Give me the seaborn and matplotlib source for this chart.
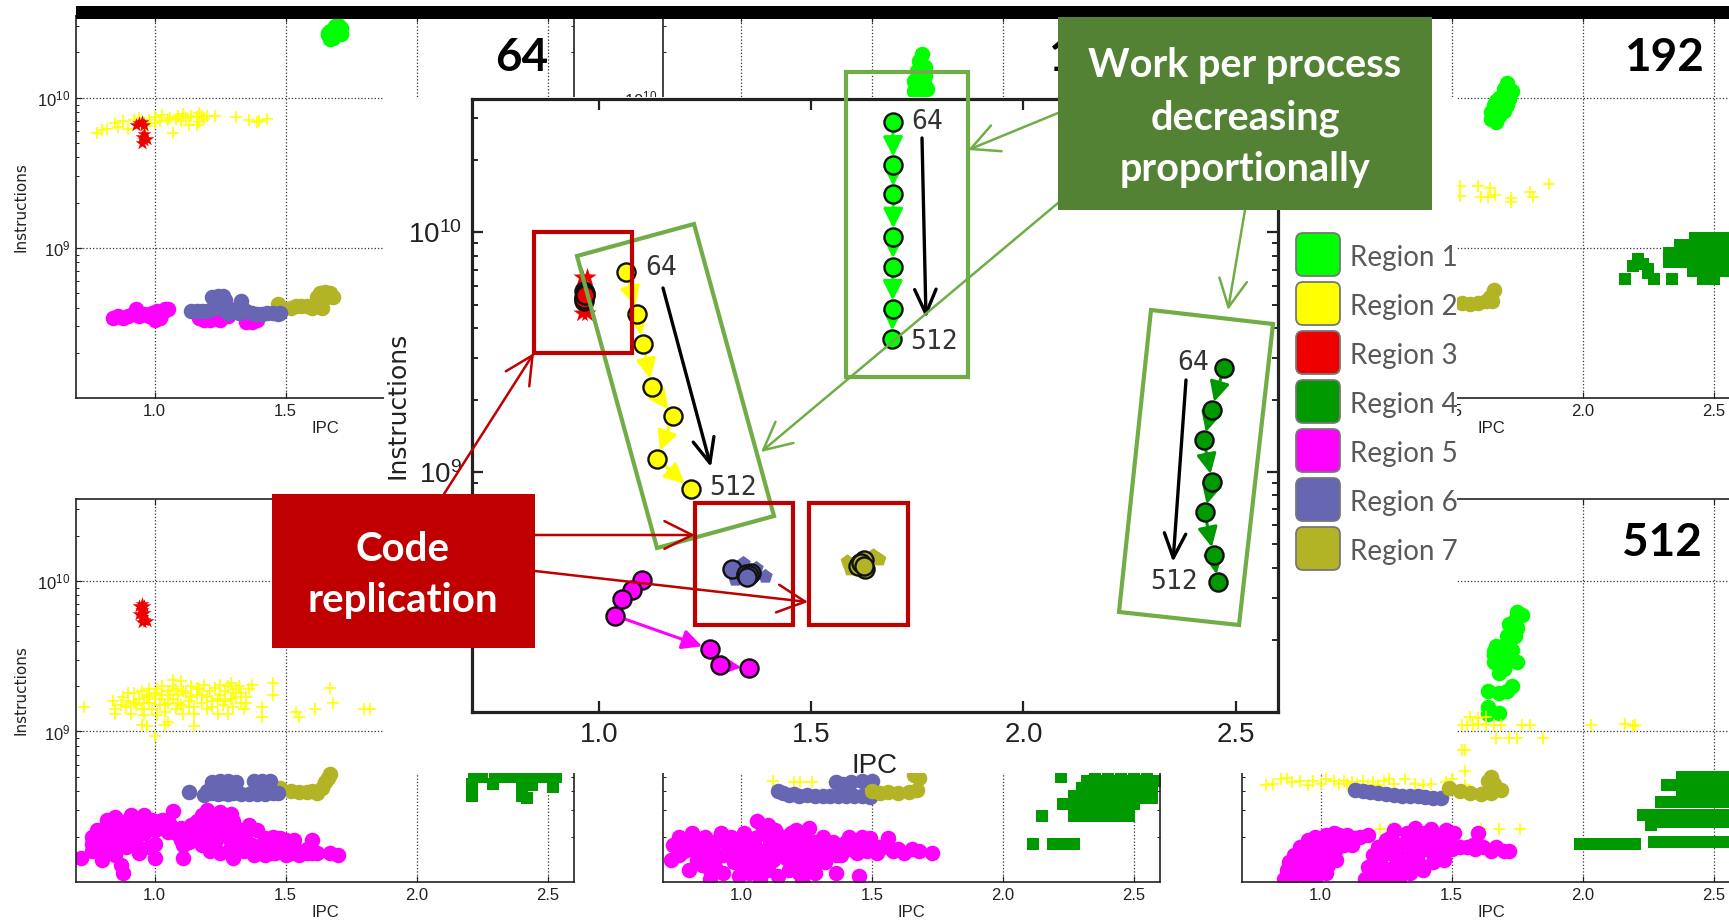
import numpy as np
import matplotlib
matplotlib.use('Agg')
import matplotlib.pyplot as plt
from matplotlib.patches import Rectangle, Polygon, FancyBboxPatch
from matplotlib.ticker import NullFormatter, FixedLocator
import seaborn as sns

W, H = 1729, 921

regions = ['Region 1', 'Region 2', 'Region 3', 'Region 4', 'Region 5', 'Region 6', 'Region 7']
colors = ['#00ff00', '#ffff00', '#ee0000', '#009900', '#ff00ff', '#6666b3', '#b3b326']
markers = ['o', '+', '*', 's', 'o', 'o', 'o']
sizes = [125, 75, 110, 82, 125, 125, 125]

# all cloud values are (IPC, instructions in units of 1e8)
p64_r1 = [(1.66, 260), (1.67, 245), (1.68, 250), (1.70, 270), (1.71, 290), (1.70, 305), (1.69, 300), (1.67, 280), (1.68, 265),
          (1.71, 265), (1.69, 285), (1.66, 270)]
p64_r2 = [(0.78, 58), (0.80, 61), (0.82, 62), (0.85, 68), (0.86, 64), (0.88, 70), (0.90, 62), (0.92, 71), (0.94, 73),
          (0.95, 66), (0.96, 69), (0.97, 65), (0.98, 71), (1.0, 74), (1.0, 68), (1.03, 77), (1.02, 70), (1.05, 71),
          (1.06, 73), (1.07, 58), (1.08, 72), (1.09, 75), (1.10, 70), (1.11, 78), (1.12, 73), (1.13, 66), (1.14, 76),
          (1.16, 74), (1.17, 69), (1.17, 79), (1.18, 76), (1.19, 72), (1.20, 75), (1.16, 66), (1.23, 75), (1.31, 74),
          (1.36, 71), (1.40, 70), (1.43, 72), (1.39, 69)]
p64_r3 = [(0.93, 66), (0.94, 68), (0.95, 69), (0.96, 66), (0.95, 55), (0.96, 52), (0.97, 53), (0.95, 50), (0.96, 57)]
p64_r5 = [(0.84, 3.4), (0.86, 3.5), (0.88, 3.4), (0.90, 3.5), (0.92, 3.7), (0.93, 3.9), (0.94, 3.5), (0.96, 3.6), (0.98, 3.5),
          (0.99, 3.7), (1.0, 3.3), (1.01, 3.8), (1.02, 3.4), (1.03, 3.7), (1.04, 3.9), (1.05, 3.9), (1.17, 3.4), (1.19, 3.3),
          (1.21, 3.3), (1.23, 3.4), (1.25, 3.3), (1.28, 3.5), (1.31, 3.9), (1.35, 3.2), (1.37, 3.2), (1.39, 3.3)]
p64_r7 = [(1.47, 4.2), (1.52, 4.0), (1.54, 4.1), (1.56, 4.1), (1.58, 4.1), (1.60, 4.0), (1.62, 4.2), (1.63, 4.1), (1.64, 4.0),
          (1.62, 4.7), (1.63, 5.0), (1.65, 5.1), (1.67, 5.0), (1.68, 4.7), (1.65, 4.6)]
p64_r6 = [(1.14, 3.8), (1.16, 3.8), (1.18, 3.8), (1.2, 3.8), (1.22, 3.9), (1.22, 4.7), (1.24, 4.8), (1.26, 4.8), (1.27, 4.5),
          (1.26, 3.9), (1.28, 3.7), (1.3, 3.8), (1.32, 3.7), (1.33, 4.4), (1.33, 3.9), (1.35, 3.8), (1.37, 3.7), (1.39, 3.6),
          (1.41, 3.6), (1.43, 3.7), (1.45, 3.7), (1.47, 3.6), (1.48, 3.7)]

p128_r1 = [(1.66, 110), (1.66, 130), (1.67, 150), (1.68, 175), (1.69, 195), (1.70, 120), (1.70, 160), (1.68, 105), (1.68, 140),
           (1.70, 140), (1.71, 115), (1.69, 125), (1.67, 118)]

p192_r1 = [(1.71, 125), (1.72, 115), (1.73, 110), (1.70, 105), (1.72, 98), (1.69, 95), (1.71, 90), (1.67, 88), (1.69, 83),
           (1.66, 79), (1.68, 75), (1.65, 72), (1.67, 69), (1.70, 115), (1.68, 100), (1.66, 90), (1.70, 82), (1.65, 80), (1.67, 95)]
p192_r2 = [(1.53, 25.9), (1.53, 22), (1.60, 25.9), (1.61, 21.9), (1.645, 25), (1.64, 21.9), (1.665, 22.5), (1.727, 21.5),
           (1.727, 20.3), (1.80, 23.6), (1.81, 21.9), (1.87, 26.7)]
p192_r4 = [(2.16, 6.2), (2.21, 8.4), (2.23, 7.8), (2.19, 7.6), (2.25, 6.8), (2.27, 6.2), (2.34, 6.2), (2.25, 7.2),
           (2.43, 11.6), (2.47, 11.6), (2.51, 11.6), (2.55, 11.6), (2.59, 11.6),
           (2.37, 10.5), (2.41, 10.5), (2.45, 10.5), (2.49, 10.5), (2.53, 10.5), (2.57, 10.5),
           (2.33, 9.2), (2.37, 9.2), (2.41, 9.2), (2.45, 9.2), (2.49, 9.2), (2.53, 9.2), (2.57, 9.2),
           (2.33, 8), (2.37, 8), (2.41, 8), (2.45, 8), (2.49, 8), (2.53, 8), (2.57, 8),
           (2.42, 7), (2.46, 7), (2.50, 7), (2.54, 7), (2.46, 6.2), (2.50, 6.2)]
p192_r7 = [(1.54, 4.3), (1.57, 4.2), (1.60, 4.3), (1.63, 4.4), (1.645, 4.7), (1.66, 5.2), (1.655, 4.4)]

p96_r2 = [(0.73, 14.5), (1.45, 21), (1.45, 17.5), (1.41, 14.5), (1.41, 12.5), (1.54, 13.5), (1.55, 12.5), (1.61, 14),
          (1.67, 19.5), (1.68, 15.5), (1.8, 14), (1.82, 14.2), (1.0, 9.3), (0.95, 11), (0.97, 10.8), (1.04, 11), (1.05, 11.6),
          (1.15, 10.8),
          (0.84, 16), (0.85, 14), (0.85, 13), (0.87, 15), (0.88, 17), (0.89, 14.5), (0.9, 16), (0.91, 13), (0.92, 18),
          (0.93, 15), (0.94, 16.5), (0.95, 14), (0.95, 18.5), (0.96, 12.8), (0.97, 17), (0.98, 15.5), (0.98, 19), (0.99, 14),
          (1.0, 16.5), (1.0, 18), (1.01, 12.8), (1.02, 15), (1.03, 17.5), (1.03, 20), (1.04, 13.5), (1.05, 15.5), (1.05, 18.5),
          (1.07, 16.5), (1.08, 14), (1.08, 19), (1.09, 17.5), (1.1, 15), (1.1, 21.5), (1.11, 13), (1.12, 18), (1.13, 16),
          (1.14, 20), (1.15, 14.5), (1.15, 13), (1.16, 17.5), (1.17, 19), (1.18, 15.5), (1.19, 20.5), (1.2, 17), (1.2, 14),
          (1.21, 18.5), (1.22, 16), (1.23, 19.5), (1.24, 13), (1.25, 17.5), (1.25, 20.5), (1.26, 15), (1.27, 18.5), (1.28, 13),
          (1.29, 16.5), (1.29, 21), (1.3, 14.5), (1.31, 19), (1.31, 17), (1.33, 15.5), (1.33, 18), (1.34, 14), (1.35, 17),
          (1.36, 19), (1.37, 20.5),
          (0.9, 18), (0.92, 15.5), (0.96, 15.5), (0.98, 17.5), (1.01, 19), (1.02, 16.5), (1.04, 15), (1.06, 17.5), (1.07, 20),
          (1.09, 15.5), (1.11, 18.5), (1.13, 14.5), (1.14, 17), (1.16, 19.5), (1.18, 17.5), (1.22, 14.5), (1.24, 16.5), (1.27, 16),
          (1.3, 18), (1.32, 20), (1.35, 15.5), (1.07, 22), (1.28, 20)]
p96_r3 = [(0.94, 68), (0.95, 70), (0.96, 68), (0.95, 64), (0.94, 60), (0.95, 58), (0.96, 55), (0.95, 53), (0.97, 54), (0.96, 61)]
p96_r4 = [(2.21, 3.75), (2.21, 4.5), (2.22, 5), (2.25, 5), (2.29, 4.5), (2.3, 5), (2.33, 5), (2.36, 5), (2.4, 5), (2.4, 4.6),
          (2.4, 4.1), (2.4, 3.7), (2.42, 3.6), (2.44, 4.4), (2.44, 5), (2.46, 5), (2.52, 4.3), (2.53, 5), (2.5, 5)]
p96_r5 = [(0.72, 1.45), (0.76, 1.6), (0.76, 1.8), (0.76, 2.0), (0.78, 2.2), (0.79, 1.6), (0.8, 1.4), (0.8, 1.9), (0.81, 2.3),
          (0.82, 2.6), (0.83, 1.7), (0.83, 2.1), (0.85, 2.7), (0.85, 1.5), (0.85, 2.3), (0.86, 1.9), (0.87, 1.3), (0.88, 1.15),
          (0.87, 2.5), (0.88, 2.0), (0.89, 1.7), (0.89, 2.3), (0.91, 2.8), (0.92, 2.4), (0.93, 1.8), (0.93, 2.1), (0.94, 1.55),
          (0.95, 2.55), (0.96, 2.8), (0.97, 2.4), (0.98, 1.7), (0.99, 2.6), (1.0, 1.8), (1.0, 1.45), (1.01, 2.5), (1.02, 2.3),
          (1.05, 2.6), (1.07, 2.95), (1.05, 2.15), (1.08, 2.1), (1.1, 1.9), (1.1, 2.3), (1.11, 1.75), (1.11, 1.45), (1.13, 2.1),
          (1.14, 2.4), (1.15, 1.9), (1.16, 2.55), (1.17, 2.2), (1.18, 1.75), (1.18, 2.8), (1.2, 3.0), (1.2, 2.4), (1.2, 2.0),
          (1.21, 1.6), (1.22, 2.6), (1.23, 1.85), (1.24, 2.2), (1.25, 2.9), (1.25, 1.55), (1.27, 2.5), (1.28, 2.0), (1.29, 1.7),
          (1.29, 2.85), (1.3, 1.45), (1.31, 2.3), (1.33, 1.85), (1.34, 1.6), (1.35, 2.1), (1.36, 2.4), (1.37, 1.75), (1.38, 1.5),
          (1.39, 2.2), (1.41, 1.75), (1.42, 1.5), (1.44, 1.55), (1.45, 1.85), (1.45, 2.0), (1.46, 1.55), (1.48, 1.7), (1.48, 1.95),
          (1.5, 1.5), (1.5, 1.9), (1.52, 1.55), (1.53, 1.9), (1.55, 1.5), (1.58, 1.55), (1.6, 1.9), (1.6, 1.55), (1.67, 1.55),
          (1.7, 1.52),
          (0.84, 2.0), (0.86, 1.7), (0.9, 2.05), (0.9, 2.55), (0.92, 1.95), (0.94, 2.3), (0.96, 2.1), (0.98, 2.55), (1.0, 2.2),
          (1.03, 2.6), (1.06, 2.4), (1.13, 1.85), (1.16, 2.15), (1.19, 1.95), (1.22, 2.2), (1.26, 2.2), (1.3, 2.55), (1.32, 2.1),
          (1.34, 1.95), (1.36, 1.65), (1.4, 1.55), (1.42, 1.95), (1.56, 1.58), (1.62, 1.55), (1.47, 1.75), (1.53, 1.6), (1.58, 1.65)]
p96_r7 = [(1.48, 4.2), (1.52, 4.0), (1.55, 3.95), (1.58, 3.95), (1.6, 4.0), (1.62, 3.9), (1.64, 4.2), (1.65, 4.6), (1.67, 5.2),
          (1.66, 4.9)]
p96_r6 = [(1.13, 3.95), (1.19, 3.8), (1.2, 4.0), (1.22, 3.9), (1.24, 3.85), (1.26, 3.9), (1.28, 3.85), (1.3, 3.9), (1.33, 3.85),
          (1.36, 3.85), (1.39, 3.85), (1.42, 3.85), (1.45, 3.9), (1.47, 3.9), (1.22, 4.6), (1.25, 4.7), (1.28, 4.7), (1.31, 4.6),
          (1.38, 4.7), (1.41, 4.7), (1.44, 4.7), (1.23, 4.2)]

p256_r2 = [(1.12, 4.7), (1.2, 4.6), (1.225, 4.6), (1.27, 4.6), (1.355, 4.6)]
p256_r4 = [(2.115, 1.8), (2.19, 1.8), (2.22, 1.8), (2.25, 1.8), (2.27, 1.8),
           (2.15, 2.75), (2.27, 2.75), (2.3, 2.75), (2.33, 2.75), (2.36, 2.75), (2.39, 2.75), (2.42, 2.75), (2.45, 2.75), (2.48, 2.75),
           (2.23, 3.3), (2.26, 3.3), (2.29, 3.3), (2.32, 3.3), (2.35, 3.3), (2.38, 3.3), (2.41, 3.3), (2.44, 3.3), (2.47, 3.3), (2.5, 3.3),
           (2.53, 3.6), (2.57, 3.6), (2.27, 3.7), (2.3, 3.7), (2.33, 3.7), (2.36, 3.7), (2.39, 3.7), (2.42, 3.7), (2.45, 3.7), (2.48, 3.7), (2.51, 3.7),
           (2.3, 4.2), (2.33, 4.2), (2.36, 4.2), (2.39, 4.2), (2.42, 4.2), (2.45, 4.2), (2.48, 4.2), (2.51, 4.2), (2.54, 4.2), (2.57, 4.2),
           (2.32, 4.7), (2.35, 4.7), (2.38, 4.7), (2.41, 4.7), (2.44, 4.7), (2.47, 4.7), (2.5, 4.7), (2.53, 4.7), (2.56, 4.7), (2.59, 4.7),
           (2.22, 5), (2.35, 5.2), (2.4, 5.2), (2.45, 5.2), (2.5, 5.2), (2.55, 5.2)]
p256_r5 = [(0.73, 1.4), (0.74, 1.75), (0.76, 2.0), (0.78, 1.6), (0.8, 1.2), (0.8, 1.8), (0.81, 2.1), (0.83, 1.4), (0.84, 1.6),
           (0.86, 2.0), (0.87, 1.75), (0.88, 1.2), (0.88, 1.05), (0.9, 1.5), (0.91, 1.9), (0.92, 2.1), (0.93, 1.15), (0.95, 1.7),
           (0.96, 2.0), (0.97, 1.35), (0.98, 1.6), (0.99, 1.1), (1.0, 1.9), (1.01, 2.1), (1.03, 1.5), (1.04, 1.75), (1.05, 1.95),
           (1.06, 2.55), (1.07, 1.25), (1.08, 2.1), (1.09, 1.6), (1.1, 2.4), (1.11, 1.85), (1.12, 1.4), (1.13, 2.2), (1.15, 1.7),
           (1.16, 2.0), (1.17, 1.45), (1.18, 1.2), (1.2, 1.9), (1.21, 2.2), (1.22, 1.6), (1.23, 1.05), (1.24, 1.4), (1.25, 1.85),
           (1.26, 2.3), (1.27, 1.55), (1.28, 1.15), (1.3, 1.7), (1.31, 2.0), (1.32, 1.35), (1.33, 1.6), (1.35, 1.85), (1.36, 1.15),
           (1.37, 1.7), (1.38, 1.5), (1.4, 1.85), (1.41, 2.0), (1.42, 1.65), (1.44, 1.55), (1.45, 1.1), (1.46, 2.0), (1.47, 1.75),
           (1.49, 1.95), (1.5, 1.7), (1.52, 1.55), (1.56, 1.95), (1.56, 1.7), (1.58, 1.6), (1.6, 1.65), (1.62, 1.55), (1.65, 1.65),
           (1.68, 1.6), (1.73, 1.55),
           (0.76, 1.5), (0.79, 1.85), (0.82, 1.6), (0.83, 1.9), (0.85, 1.3), (0.86, 1.45), (0.89, 1.75), (0.9, 1.25), (0.93, 1.5),
           (0.94, 1.9), (0.97, 1.55), (0.99, 1.8), (1.0, 1.35), (1.02, 1.65), (1.05, 1.3), (1.06, 1.65), (1.08, 1.45), (1.1, 1.2),
           (1.11, 1.6), (1.13, 1.85), (1.14, 1.5), (1.18, 1.7), (1.19, 2.1), (1.2, 1.4), (1.23, 1.75), (1.24, 2.05), (1.26, 1.25),
           (1.28, 1.85), (1.29, 1.45), (1.31, 1.6), (1.34, 1.75), (1.36, 1.5), (1.39, 1.65), (1.43, 1.8), (1.48, 1.6), (1.53, 1.7),
           (1.14, 1.1), (1.03, 1.15), (1.22, 1.15), (1.07, 1.05)]
p256_r6 = [(1.14, 4.0), (1.16, 3.9), (1.18, 3.8), (1.2, 3.85), (1.22, 3.75), (1.25, 3.8), (1.28, 3.7), (1.31, 3.75), (1.34, 3.7),
           (1.37, 3.75), (1.4, 3.7), (1.43, 3.75), (1.46, 3.7), (1.49, 3.65), (1.36, 4.6), (1.39, 4.5), (1.42, 4.6), (1.46, 4.7), (1.5, 4.7)]
p256_r7 = [(1.5, 4.0), (1.53, 3.9), (1.56, 3.95), (1.6, 3.9), (1.64, 3.95), (1.67, 4.1), (1.68, 4.9), (1.66, 5.1)]

p512_r1 = [(1.75, 62), (1.77, 59), (1.74, 55), (1.75, 49), (1.73, 46), (1.71, 43), (1.74, 43), (1.71, 39), (1.67, 37), (1.7, 36),
           (1.66, 32), (1.7, 33), (1.66, 29), (1.69, 28), (1.72, 30), (1.75, 29), (1.7, 26), (1.73, 20), (1.71, 18.5), (1.68, 18),
           (1.64, 18.5), (1.64, 14.5), (1.64, 13), (1.68, 13.3), (1.72, 52), (1.69, 31), (1.73, 35), (1.68, 24.5), (1.66, 34)]
p512_r2 = [(1.54, 11), (1.56, 11), (1.58, 11), (1.6, 11.2), (1.63, 11), (1.66, 11), (1.69, 11), (1.77, 11), (1.8, 11), (2.03, 11),
           (2.16, 11.2), (2.19, 10.8), (2.2, 11), (1.57, 12.5), (1.6, 12.2), (1.63, 12.5), (1.67, 9), (1.75, 9), (1.72, 9), (1.85, 9),
           (1.54, 7.5), (1.55, 7.5), (1.55, 5.5),
           (0.79, 4.4), (0.82, 4.5), (0.85, 4.8), (0.87, 4.9), (0.89, 4.6), (0.92, 4.7), (0.95, 4.4), (0.97, 4.7), (1.0, 4.5), (1.02, 4.8),
           (1.05, 4.7), (1.07, 4.5), (1.09, 4.7), (1.1, 4.5), (1.12, 4.6), (1.14, 4.5), (1.16, 4.7), (1.18, 4.4), (1.2, 4.6), (1.22, 4.4),
           (1.24, 4.7), (1.26, 4.8), (1.28, 4.5), (1.32, 4.8), (1.36, 4.5), (1.39, 4.4), (1.42, 4.5), (1.48, 4.6), (1.5, 4.8), (1.55, 4.4),
           (1.227, 2.24), (1.266, 2.24), (1.475, 2.24), (1.61, 2.24), (1.68, 2.24), (1.76, 2.24)]
p512_r4 = [(1.99, 1.8), (2.02, 1.8), (2.05, 1.8), (2.08, 1.8), (2.11, 1.8), (2.14, 1.8), (2.17, 1.8), (2.2, 1.8),
           (2.27, 1.85), (2.3, 1.85), (2.33, 1.85), (2.36, 1.85), (2.39, 1.85), (2.42, 1.85), (2.45, 1.85), (2.48, 1.85), (2.51, 1.85), (2.54, 1.85), (2.57, 1.85),
           (2.23, 2.8), (2.26, 2.8), (2.29, 2.8), (2.32, 2.8), (2.35, 2.8), (2.38, 2.8), (2.41, 2.8), (2.44, 2.8), (2.47, 2.8), (2.5, 2.8), (2.53, 2.8), (2.56, 2.8),
           (2.26, 2.4), (2.3, 2.5), (2.33, 2.5), (2.36, 2.5), (2.39, 2.5), (2.42, 2.5), (2.45, 2.5), (2.48, 2.5), (2.51, 2.5), (2.54, 2.5), (2.57, 2.5),
           (2.3, 3.4), (2.33, 3.4), (2.36, 3.4), (2.39, 3.4), (2.42, 3.4), (2.45, 3.4), (2.48, 3.4), (2.51, 3.4), (2.54, 3.4), (2.57, 3.4),
           (2.32, 4.4), (2.35, 4.4), (2.38, 4.4), (2.41, 4.4), (2.44, 4.4), (2.47, 4.4), (2.5, 4.4), (2.53, 4.4), (2.56, 4.4),
           (2.38, 3.9), (2.42, 3.9), (2.46, 3.9), (2.5, 3.9), (2.54, 3.9), (2.57, 3.9),
           (2.38, 5), (2.41, 5), (2.44, 5), (2.47, 5), (2.5, 5), (2.53, 5), (2.56, 5)]
p512_r5 = [(0.86, 1.05), (0.87, 1.2), (0.88, 1.35), (0.9, 1.1), (0.9, 1.5), (0.92, 1.3), (0.92, 1.7), (0.94, 1.1), (0.94, 1.5),
           (0.95, 1.9), (0.96, 1.25), (0.97, 1.7), (0.98, 2.0), (0.98, 1.05), (1.0, 1.4), (1.0, 1.85), (1.02, 2.05), (1.02, 1.15),
           (1.03, 1.6), (1.05, 1.9), (1.06, 1.4), (1.07, 2.05), (1.09, 1.75), (1.1, 2.05), (1.13, 1.95), (1.15, 2.0), (1.18, 2.05),
           (1.17, 1.05), (1.18, 1.25), (1.2, 1.5), (1.2, 1.1), (1.22, 1.7), (1.23, 1.3), (1.25, 1.05), (1.25, 1.9), (1.26, 1.55),
           (1.28, 1.25), (1.28, 2.2), (1.3, 1.75), (1.3, 1.05), (1.32, 1.45), (1.33, 2.1), (1.34, 1.15), (1.35, 1.7), (1.36, 2.3),
           (1.37, 1.35), (1.38, 1.9), (1.4, 2.1), (1.42, 1.6), (1.42, 2.25), (1.44, 1.85), (1.46, 2.05), (1.47, 1.4), (1.48, 2.2),
           (1.5, 1.65), (1.51, 2.1), (1.53, 1.7), (1.56, 1.7), (1.58, 1.75), (1.59, 1.65), (1.6, 2.1), (1.62, 1.7), (1.65, 1.6),
           (1.67, 1.7), (1.7, 1.6), (1.72, 1.6),
           (0.9, 1.3), (0.94, 1.3), (0.96, 1.5), (0.99, 1.2), (1.0, 1.65), (1.03, 1.3), (1.06, 1.65), (1.05, 2.1), (1.12, 1.75), (1.22, 1.1),
           (1.22, 1.45), (1.25, 1.7), (1.27, 1.15), (1.29, 1.45), (1.32, 1.25), (1.33, 1.85), (1.35, 1.4), (1.38, 1.6), (1.39, 1.2),
           (1.41, 1.85), (1.45, 1.55), (1.43, 1.35), (1.35, 2.05), (1.27, 2.0), (1.49, 1.85)]
p512_r6 = [(1.13, 4.1), (1.16, 4.0), (1.19, 3.95), (1.22, 3.9), (1.25, 3.85), (1.28, 3.8), (1.31, 3.75), (1.34, 3.7), (1.37, 3.7),
           (1.4, 3.65), (1.43, 3.6), (1.46, 3.6)]
p512_r7 = [(1.49, 4.2), (1.53, 4.0), (1.57, 3.9), (1.61, 3.85), (1.65, 3.9), (1.69, 4.1), (1.65, 5.0), (1.64, 4.7), (1.66, 4.5)]

# scaling summary panel, one point per run from 64 to 512 processes
mean_r1_ipc = [1.692, 1.693, 1.693, 1.693, 1.692, 1.692, 1.690]
mean_r1_ins = [2.9e10, 1.91e10, 1.44e10, 9.6e9, 7.2e9, 4.8e9, 3.6e9]
mean_r2_ipc = [1.063, 1.090, 1.103, 1.124, 1.174, 1.136, 1.216]
mean_r2_ins = [6.85e9, 4.55e9, 3.44e9, 2.27e9, 1.71e9, 1.14e9, 8.5e8]
mean_r3_ipc = [0.963, 0.966, 0.964, 0.967, 0.965, 0.963, 0.966]
mean_r3_ins = [5.7e9, 5.5e9, 5.4e9, 5.6e9, 5.2e9, 5.3e9, 5.5e9]
mean_r4_ipc = [2.472, 2.444, 2.425, 2.445, 2.427, 2.448, 2.458]
mean_r4_ins = [2.72e9, 1.82e9, 1.36e9, 9.1e8, 6.8e8, 4.5e8, 3.47e8]
mean_r5_ipc = [1.101, 1.077, 1.054, 1.038, 1.261, 1.285, 1.354]
mean_r5_ins = [3.56e8, 3.23e8, 2.96e8, 2.52e8, 1.83e8, 1.57e8, 1.52e8]
mean_r6_ipc = [1.314, 1.345, 1.349, 1.357, 1.345, 1.352, 1.349]
mean_r6_ins = [3.95e8, 3.74e8, 3.7e8, 3.8e8, 3.78e8, 3.72e8, 3.66e8]
mean_r7_ipc = [1.615, 1.627, 1.619, 1.611, 1.623, 1.618, 1.625]
mean_r7_ins = [4.2e8, 3.95e8, 4.15e8, 4.08e8, 4.29e8, 4.2e8, 4.05e8]
spread_r3 = [(0.96, 6.5e9), (0.972, 6.5e9), (0.96, 4.6e9), (0.97, 4.6e9)]
spread_r6 = [(1.34, 4.2e8), (1.31, 3.95e8), (1.39, 3.7e8), (1.32, 3.6e8), (1.37, 4.0e8)]
spread_r7 = [(1.585, 4.25e8), (1.645, 4.5e8), (1.59, 3.95e8), (1.66, 4.35e8)]
arrow_steps = [[0, 1, 2, 3, 4, 5], [0, 1, 2, 3, 4, 5], [], [0, 1, 2, 3, 4, 5], [3, 5], [], []]

panel_labels = ['64', '128', '192', '512']

sns.set_style('white')
plt.rcParams['font.family'] = ['Liberation Sans', 'DejaVu Sans']
plt.rcParams['mathtext.default'] = 'regular'

fig = plt.figure(figsize=(W / 100, H / 100), dpi=100)


def px_axes(left, top, right, bottom, **kw):
    return fig.add_axes([left / W, 1 - bottom / H, (right - left) / W, (bottom - top) / H], **kw)


def style_axes(ax, top_lim, tick_size, label_size, spine_lw, major, minor):
    ax.set_yscale('log')
    ax.set_xlim(0.7, 2.6)
    ax.set_ylim(1e8, top_lim)
    ax.set_xticks([1.0, 1.5, 2.0, 2.5])
    ax.set_xticklabels(['1.0', '1.5', '2.0', '2.5'])
    ax.set_yticks([1e9, 1e10])
    ax.yaxis.set_minor_locator(FixedLocator([m * 10.0 ** e for e in (8, 9, 10) for m in range(2, 10)]))
    ax.yaxis.set_minor_formatter(NullFormatter())
    ax.tick_params(which='major', direction='in', length=major, width=spine_lw * 0.7, top=True, right=True,
                   left=True, bottom=True, labelsize=tick_size, pad=4, color='#222222', labelcolor='#222222')
    ax.tick_params(which='minor', direction='in', length=minor, width=spine_lw * 0.6, left=True, right=True, color='#222222')
    for s in ax.spines.values():
        s.set_linewidth(spine_lw)
        s.set_color('#222222')
        s.set_visible(True)
    ax.set_xlabel('IPC', fontsize=tick_size, labelpad=2, color='#222222')
    ax.set_ylabel('Instructions', fontsize=label_size, family='DejaVu Sans', color='#222222', labelpad=6)


def draw_cloud(ax, pts, region):
    i = regions.index(region)
    xy = np.array(pts, dtype=float)
    sns.scatterplot(x=xy[:, 0], y=xy[:, 1] * 1e8, marker=markers[i], color=colors[i], s=sizes[i],
                    linewidth=1.2 if markers[i] == '+' else 0, ax=ax, legend=False)


panels = [
    ((76, 16, 574, 398), {'Region 1': p64_r1, 'Region 2': p64_r2, 'Region 3': p64_r3, 'Region 5': p64_r5,
                          'Region 7': p64_r7, 'Region 6': p64_r6}),
    ((663, 16, 1160, 398), {'Region 1': p128_r1}),
    ((1242, 16, 1740, 398), {'Region 1': p192_r1, 'Region 2': p192_r2, 'Region 4': p192_r4, 'Region 7': p192_r7}),
    ((76, 499, 574, 882), {'Region 2': p96_r2, 'Region 3': p96_r3, 'Region 4': p96_r4, 'Region 5': p96_r5,
                           'Region 7': p96_r7, 'Region 6': p96_r6}),
    ((663, 499, 1160, 882), {'Region 2': p256_r2, 'Region 4': p256_r4, 'Region 5': p256_r5, 'Region 6': p256_r6,
                             'Region 7': p256_r7}),
    ((1242, 499, 1740, 882), {'Region 1': p512_r1, 'Region 2': p512_r2, 'Region 4': p512_r4, 'Region 5': p512_r5,
                              'Region 6': p512_r6, 'Region 7': p512_r7}),
]

for box, clouds in panels:
    ax = px_axes(*box)
    for name, pts in clouds.items():
        draw_cloud(ax, pts, name)
    style_axes(ax, 3.5e10, 12, 11, 1.2, 4, 2.5)
    ax.grid(True, which='major', color='#333333', ls=':', lw=0.9)
    ax.set_axisbelow(True)

# white sheet behind the summary panel
fig.add_artist(Rectangle((384 / W, 1 - 773 / H), (1457 - 384) / W, (773 - 97) / H, transform=fig.transFigure,
                         facecolor='white', edgecolor='none', zorder=1))

ax_c = px_axes(472, 99, 1278, 712, zorder=2)
ax_c.patch.set_alpha(0)
sp_r3 = np.array(spread_r3)
sp_r6 = np.array(spread_r6)
sp_r7 = np.array(spread_r7)
sns.scatterplot(x=sp_r3[:, 0], y=sp_r3[:, 1], marker='*', color=colors[2], s=190, linewidth=0, ax=ax_c, legend=False)
sns.scatterplot(x=sp_r6[:, 0], y=sp_r6[:, 1], marker='p', color=colors[5], s=120, linewidth=0, ax=ax_c, legend=False)
sns.scatterplot(x=sp_r7[:, 0], y=sp_r7[:, 1], marker='p', color=colors[6], s=110, linewidth=0, ax=ax_c, legend=False)

means = [(mean_r1_ipc, mean_r1_ins), (mean_r2_ipc, mean_r2_ins), (mean_r3_ipc, mean_r3_ins), (mean_r4_ipc, mean_r4_ins),
         (mean_r5_ipc, mean_r5_ins), (mean_r6_ipc, mean_r6_ins), (mean_r7_ipc, mean_r7_ins)]
for (xs, ys), c, steps in zip(means, colors, arrow_steps):
    for k in steps:
        ax_c.annotate('', xy=(xs[k + 1], ys[k + 1]), xytext=(xs[k], ys[k]), zorder=2,
                      arrowprops=dict(arrowstyle='-|>,head_width=0.5,head_length=1.0', mutation_scale=12,
                                      color=c, lw=2.2, shrinkA=3, shrinkB=6))
    sns.scatterplot(x=xs, y=ys, color=c, s=170, edgecolor='#111111', linewidth=1.7, ax=ax_c, legend=False, zorder=3)
style_axes(ax_c, 3.6e10, 20, 18, 2.3, 8, 4.5)
ax_c.tick_params(axis='both', which='major', pad=7)
ax_c.xaxis.labelpad = 4
ax_c.yaxis.labelpad = -1

# annotation layer in pixel coordinates
ov = px_axes(0, 0, W, H, zorder=3)
ov.set_xlim(0, W)
ov.set_ylim(H, 0)
ov.axis('off')

GREEN = '#70ad47'
RED = '#c00000'


def frame(corners, color):
    ov.add_patch(Polygon(corners, closed=True, fill=False, edgecolor=color, lw=3, joinstyle='miter'))


def arrow(start, end, color, lw=1.8, hw=0.5, hl=1.0, scale=20):
    ov.annotate('', xy=end, xytext=start, arrowprops=dict(arrowstyle=f'->,head_width={hw},head_length={hl}', mutation_scale=scale,
                                                          color=color, lw=lw, shrinkA=0, shrinkB=0))


ov.add_patch(Rectangle((76, 6), W - 76, 13, facecolor='black', edgecolor='none'))

for label, x, y in [(panel_labels[0], 548, 58), (panel_labels[1], 1128, 58), (panel_labels[2], 1704, 58), (panel_labels[3], 1702, 543)]:
    ov.text(x, y, label, ha='right', va='center', fontsize=33, fontweight='bold', family='Lato', color='black')

frame([(846, 72), (968, 72), (968, 377), (846, 377)], GREEN)
frame([(577, 256), (694, 224), (774, 516), (657, 548)], GREEN)
frame([(1151, 310), (1273, 324), (1239, 625), (1119, 612)], GREEN)
frame([(534, 232), (632, 232), (632, 353), (534, 353)], RED)
frame([(695, 503), (793, 503), (793, 625), (695, 625)], RED)
frame([(809, 503), (908, 503), (908, 625), (809, 625)], RED)

arrow((922, 138), (926, 318), 'black', lw=2.4, hw=0.35, hl=0.8, scale=22)
arrow((663, 288), (711, 467), 'black', lw=2.4, hw=0.35, hl=0.8, scale=22)
arrow((1186, 380), (1173, 562), 'black', lw=2.4, hw=0.35, hl=0.8, scale=22)

for label, x, y in [('64', 927, 122), ('512', 934, 342), ('64', 661, 268), ('512', 733, 488), ('64', 1193, 363), ('512', 1174, 582)]:
    ov.text(x, y, label, ha='center', va='center', fontsize=19, family='DejaVu Sans Mono', color='#333333')

arrow((1058, 113), (968, 150), GREEN)
arrow((1058, 203), (761, 452), GREEN)
arrow((1245, 210), (1228, 310), GREEN)
arrow((444, 494), (534, 353), RED)
arrow((535, 535), (695, 535), RED)
arrow((535, 571), (808, 602), RED)

ov.add_patch(Rectangle((1058, 17), 374, 193, facecolor='#548235', edgecolor='none', zorder=5))
for txt, y in [('Work per process', 66), ('decreasing', 118), ('proportionally', 169)]:
    ov.text(1245, y, txt, ha='center', va='center', fontsize=28.5, fontweight='bold', family='Lato', color='white', zorder=6)

ov.add_patch(Rectangle((272, 494), 263, 154, facecolor=RED, edgecolor='none', zorder=5))
for txt, y in [('Code', 549), ('replication', 600)]:
    ov.text(403, y, txt, ha='center', va='center', fontsize=29, fontweight='bold', family='Lato', color='white', zorder=6)

for i, (name, c) in enumerate(zip(regions, colors)):
    top = 233 + i * 49
    ov.add_patch(FancyBboxPatch((1299, top + 3), 38, 37, boxstyle='round,pad=3,rounding_size=7', facecolor=c,
                                edgecolor='#777777', lw=1.3, zorder=5))
    ov.text(1350, top + 25, name, ha='left', va='center', fontsize=20, family='Lato', color='#595959', zorder=6)

fig.savefig('out.png', dpi=100)
